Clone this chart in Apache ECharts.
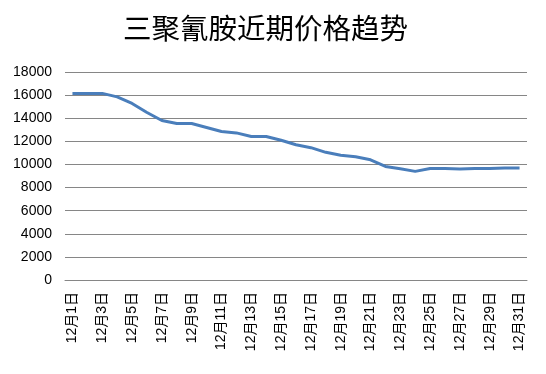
<!DOCTYPE html>
<html><head><meta charset="utf-8">
<script src="https://cdn.jsdelivr.net/npm/echarts@6/dist/echarts.min.js"></script>
<style>html,body{margin:0;padding:0;background:#fff}#c{width:546px;height:374px}</style>
</head><body><div id="c"></div>
<script>
const titleText = '三聚氰胺近期价格趋势';
const categories = [];
for (let d = 1; d <= 31; d++) categories.push('12月' + d + '日');
const prices = [16150,16150,16150,15850,15280,14500,13800,13540,13540,13200,12850,12730,12420,12420,12090,11700,11450,11050,10800,10660,10400,9830,9620,9400,9650,9650,9600,9650,9650,9700,9700];
const yMin = 0, yMax = 18000, yStep = 2000;

const chart = echarts.init(document.getElementById('c'), null, {renderer: 'canvas'});
chart.setOption({
  animation: false,
  backgroundColor: '#fff',
  title: {
    text: titleText, left: 118, top: 9,
    textStyle: {fontSize: 28.5, fontWeight: 'normal', color: '#000', fontFamily: 'Noto Sans CJK SC'}
  },
  grid: {left: 65, right: 19, top: 72, bottom: 94, containLabel: false},
  xAxis: {
    type: 'category', data: categories, boundaryGap: true,
    axisLine: {lineStyle: {color: '#868686'}},
    axisTick: {show: false},
    axisLabel: {rotate: 90, interval: 1, color: '#000', fontSize: 14, fontFamily: 'Liberation Sans, Noto Sans CJK SC', margin: 12}
  },
  yAxis: {
    type: 'value', min: yMin, max: yMax, interval: yStep,
    axisLine: {show: false}, axisTick: {show: false},
    splitLine: {lineStyle: {color: '#868686', width: 1}},
    axisLabel: {color: '#000', fontSize: 14, fontFamily: 'Liberation Sans', margin: 13, formatter: v => String(v)}
  },
  series: [{
    type: 'line', data: prices, showSymbol: false, symbol: 'none',
    lineStyle: {color: '#4A7EBB', width: 3}
  }]
});
</script>
</body></html>
